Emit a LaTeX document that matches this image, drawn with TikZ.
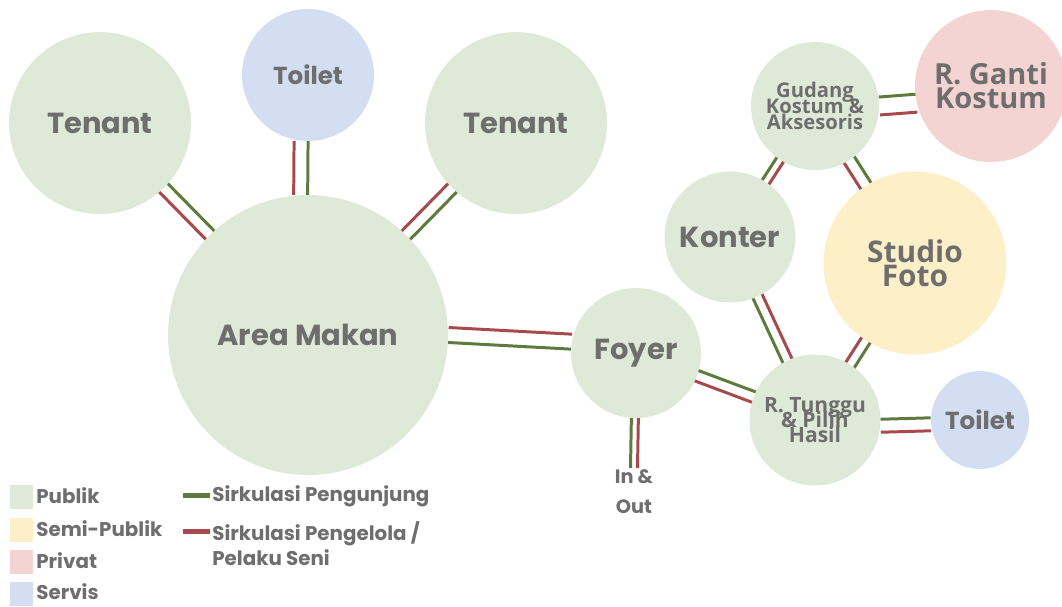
\documentclass[tikz,border=0pt]{standalone}
\usepackage{fontspec}
\setmainfont{Poppins}
\newfontfamily\rapat{Open Sans}
\newcommand{\rapatbaris}{\lineskiplimit=-20pt\relax}
\usetikzlibrary{calc,backgrounds}

\definecolor{publik}{HTML}{DFE9D7}
\definecolor{semipublik}{HTML}{FDF0C8}
\definecolor{privat}{HTML}{F4D4D2}
\definecolor{servis}{HTML}{D4DEF2}
\definecolor{pengunjung}{HTML}{5E7A3E}
\definecolor{pengelola}{HTML}{A64A4C}
\definecolor{teks}{HTML}{6E6E6E}

% two parallel lines: green on the left of #2 -> #3, red on the right
\newcommand{\jalur}[3][12]{%
  \draw[hijau] ($(#2)!#1*0.01cm!90:(#3)$) -- ($(#3)!#1*0.01cm!-90:(#2)$);
  \draw[merah] ($(#2)!#1*0.01cm!-90:(#3)$) -- ($(#3)!#1*0.01cm!90:(#2)$);
}

\begin{document}
\begin{tikzpicture}
    [x=0.02cm,y=-0.02cm,
     ruang/.style={circle,inner sep=0pt,text=teks,align=center,
       font=\bfseries\fontsize{16.5}{18}\selectfont},
     ruangkecil/.style={ruang,font=\bfseries\fontsize{14}{16}\selectfont},
     hijau/.style={draw=pengunjung,line width=1.7pt},
     merah/.style={draw=pengelola,line width=1.7pt},
     kotak/.style={inner sep=0pt,minimum width=0.46cm,minimum height=0.48cm},
     garis/.style={inner sep=0pt,minimum width=0.54cm,minimum height=0.1cm},
     keterangan/.style={anchor=west,inner sep=0pt,text=teks,align=left,
       font=\bfseries\fontsize{11.3}{14.2}\selectfont}]
    \useasboundingbox (0,0) rectangle (1062,606);

    % ruang
    \node[ruang,fill=publik,minimum size=3.64cm] (tenantA) at (100,123) {Tenant};
    \node[ruangkecil,fill=servis,minimum size=2.64cm] (toiletA) at (308,75) {Toilet};
    \node[ruang,fill=publik,minimum size=3.64cm] (tenantB) at (516,123) {Tenant};
    \node[ruang,fill=publik,minimum size=5.6cm] (makan) at (308,335) {Area Makan};
    \node[ruang,fill=publik,minimum size=2.6cm] (foyer) at (636,353) {Foyer};
    \node[text=teks,align=center,inner sep=1pt,
      font=\bfseries\fontsize{11}{17}\selectfont] (inout) at (634,492) {In \&\\Out};
    \node[ruang,fill=publik,minimum size=2.56cm,
      font=\rapat\bfseries\fontsize{11.5}{9.2}\selectfont\rapatbaris] (gudang) at (815,106) {Gudang\\Kostum \&\\Aksesoris};
    \node[ruang,fill=privat,minimum size=3.04cm,
      font=\rapat\bfseries\fontsize{16.5}{13.6}\selectfont\rapatbaris] (ganti) at (991,86) {R. Ganti\\Kostum};
    \node[ruang,fill=publik,minimum size=2.62cm] (konter) at (730,237) {Konter};
    \node[ruang,fill=semipublik,minimum size=3.66cm,
      font=\rapat\bfseries\fontsize{17}{13.6}\selectfont\rapatbaris] (studio) at (915,263) {Studio\\Foto};
    \node[ruang,fill=publik,minimum size=2.62cm,
      font=\rapat\bfseries\fontsize{12}{8.5}\selectfont\rapatbaris] (tunggu) at (815,420) {R. Tunggu\\\& Pilih\\Hasil};
    \node[ruangkecil,fill=servis,minimum size=1.96cm] (toiletB) at (980,420) {Toilet};

    % sirkulasi
    \begin{scope}[on background layer]
      \jalur{tenantA}{makan}
      \jalur[14]{toiletA.264}{makan.93}
      \jalur{tenantB}{makan}
      \jalur[15]{foyer.170}{makan.east}
      \jalur[7]{inout.north}{foyer}
      \jalur[11]{foyer}{tunggu}
      \jalur[10]{tunggu}{konter}
      \jalur[10]{studio}{tunggu}
      \jalur[8]{konter}{gudang}
      \jalur{gudang}{studio}
      \jalur[18]{gudang.east}{ganti.193}
      \jalur[13]{tunggu.-5}{toiletB.185}
    \end{scope}

    % legenda
    \node[kotak,fill=publik] (kPublik) at (21.5,497) {};
    \node[kotak,fill=semipublik] (kSemi) at (21.5,530) {};
    \node[kotak,fill=privat] (kPrivat) at (21.5,562) {};
    \node[kotak,fill=servis] (kServis) at (21.5,594) {};
    \node[keterangan] (tPublik) at (36,496) {Publik};
    \node[keterangan] (tSemi) at (36,529) {Semi-Publik};
    \node[keterangan] (tPrivat) at (36,561) {Privat};
    \node[keterangan] (tServis) at (36,592) {Servis};
    \node[garis,fill=pengunjung] (gHijau) at (196.5,495) {};
    \node[garis,fill=pengelola] (gMerah) at (196.5,531) {};
    \node[keterangan] (tHijau) at (212,496) {Sirkulasi Pengunjung};
    \node[keterangan,anchor=north west] (tMerah) at (212,521) {Sirkulasi Pengelola /\\Pelaku Seni};
  \end{tikzpicture}
\end{document}
